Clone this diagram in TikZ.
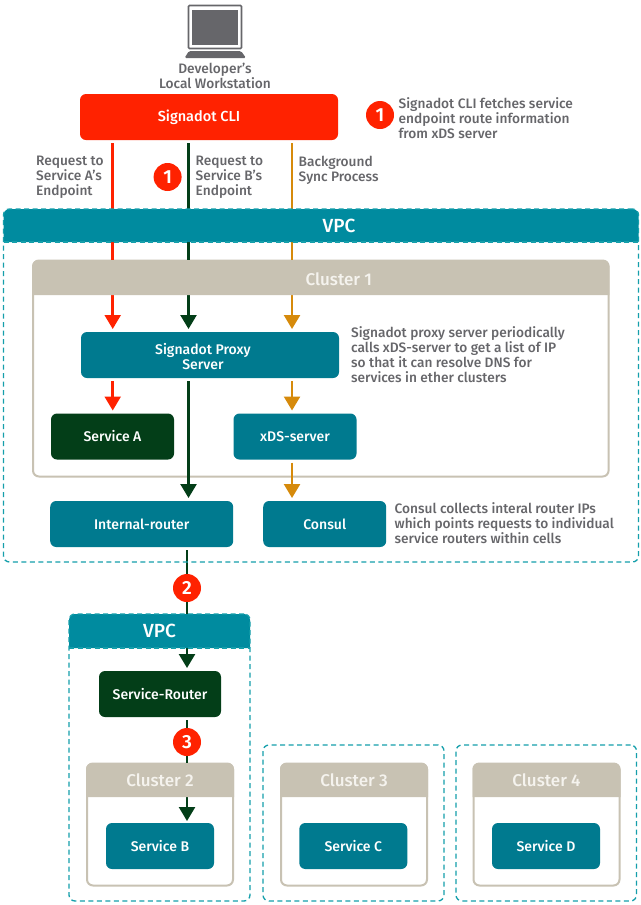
\documentclass[tikz,border=0pt]{standalone}
\usepackage{fontspec}
\setmainfont{Fira Sans}[BoldFont={Fira Sans Medium}]
\newfontfamily\badgefont{Fira Sans SemiBold}
\usetikzlibrary{arrows.meta}
\definecolor{tealbox}{HTML}{007A8F}
\definecolor{tealband}{HTML}{008B9F}
\definecolor{tealdash}{HTML}{159FAB}
\definecolor{darkgreen}{HTML}{033E18}
\definecolor{sigred}{HTML}{FF2200}
\definecolor{sigorange}{HTML}{D68A0B}
\definecolor{beige}{HTML}{C8C2B3}
\definecolor{greytext}{HTML}{66666A}
\definecolor{headertext}{HTML}{F5F3EE}
\pgfdeclarelayer{frames}
\pgfdeclarelayer{lines}
\pgfdeclarelayer{bands}
\pgfdeclarelayer{dashes}
\pgfsetlayers{frames,lines,bands,dashes,main}
\tikzset{
  box/.style={rectangle,rounded corners=6pt,minimum height=46pt,inner sep=0pt,outer sep=0pt,
    text=white,align=center,font=\fontsize{14}{15}\selectfont\bfseries},
  tealnode/.style={box,fill=tealbox},
  greennode/.style={box,fill=darkgreen},
  clinode/.style={box,fill=sigred},
  note/.style={text=greytext,align=left,inner sep=0pt,anchor=west,font=\fontsize{13.7}{15}\selectfont\bfseries},
  centrenote/.style={note,anchor=center,align=center},
  badge/.style={circle,fill=sigred,text=white,minimum size=28pt,inner sep=0pt,outer sep=0pt,
    font=\fontsize{19}{19}\selectfont\badgefont},
  vpcframe/.style={rectangle,draw=tealdash,line width=1.3pt,dash pattern=on 5pt off 3.5pt,rounded corners=6pt,
    inner sep=0pt,outer sep=0pt},
  clusterframe/.style={rectangle,draw=beige,fill=white,line width=2pt,rounded corners=6pt,inner sep=0pt,outer sep=0pt},
  headlabel/.style={text=headertext,inner sep=0pt,font=\fontsize{17}{18}\selectfont\bfseries},
  vpclabel/.style={text=white,inner sep=0pt,font=\fontsize{19}{19}\selectfont\bfseries},
  header/.style={rectangle,inner sep=0pt,outer sep=0pt},
  wire/.style={line width=2.5pt},
  arrowwire/.style={wire,-{Triangle[width=16pt,length=14pt]}},
  gapstart/.style={shorten <=3pt},
  gapend/.style={shorten >=3pt},
}
\newcommand{\topround}[2]{\fill[#2] (#1.south west) [rounded corners=6pt] -- (#1.north west) -- (#1.north east) [sharp corners] -- (#1.south east) -- cycle;}
\begin{document}
\begin{tikzpicture}[x=1pt,y=1pt]
\useasboundingbox (0,0) rectangle (640,-905);
\begin{pgfonlayer}{frames}
\fill[white] (0,0) rectangle (640,-905);
\end{pgfonlayer}
% column guides for connectors
\coordinate (colred) at (112.7,0);
\coordinate (colgreen) at (188.5,0);
\coordinate (colorange) at (292,0);
\coordinate (collow) at (187,0);
% laptop icon
\draw[greytext,line width=1.6pt,rounded corners=1pt,fill=white] (188.5,-5.5) rectangle (241.5,-48.5);
\fill[greytext] (192,-10) rectangle (238,-44.5);
\fill[greytext,rounded corners=1.5pt] (184.5,-58) -- (189,-51) -- (241,-51) -- (246,-58) -- cycle;
\node[centrenote] (workstation) at (215,-75.5) {Developer’s\\Local Workstation};
% main boxes
\node[clinode,minimum width=258pt,label={[text=white,font=\fontsize{14.5}{15}\selectfont\bfseries,xshift=-10pt,inner sep=0pt]center:Signadot CLI}] (cli) at (209,-117) {};
\node[tealnode,minimum width=258pt,label={[text=white,align=center,font=\fontsize{14}{15}\selectfont\bfseries,xshift=-7pt,yshift=-1.5pt,inner sep=0pt]center:Signadot Proxy\\Server}] (proxy) at (210,-355) {};
\node[greennode,minimum width=123pt] (serviceA) at (112.5,-436.5) {Service A};
\node[tealnode,minimum width=123pt] (xds) at (295,-436.5) {xDS-server};
\node[tealnode,minimum width=183pt] (router) at (141.7,-524) {Internal-router};
\node[tealnode,minimum width=123pt] (consul) at (324.7,-524) {Consul};
\node[greennode,minimum width=122pt] (srouter) at (160,-694) {Service-Router};
\node[tealnode,minimum width=108pt] (serviceB) at (160,-846) {Service B};
\node[tealnode,minimum width=108pt] (serviceC) at (353.3,-846) {Service C};
\node[tealnode,minimum width=108pt] (serviceD) at (546,-846) {Service D};
% badges
\node[badge] (badgeA) at (380,-115) {1};
\node[badge] (badgeB) at (167.6,-177) {1};
\node[badge] (badgeC) at (187,-588) {2};
\node[badge] (badgeD) at (187,-742) {3};
% notes
\node[note] (noteA) at (398.5,-118) {Signadot CLI fetches service\\endpoint route information\\from xDS server};
\node[note] (labelA) at (36,-177.5) {Request to\\Service A’s\\Endpoint};
\node[note] (labelB) at (195.5,-177.5) {Request to\\Service B’s\\Endpoint};
\node[note] (labelC) at (298.5,-170) {Background\\Sync Process};
\node[note] (noteB) at (351,-354.5) {Signadot proxy server periodically\\calls xDS-server to get a list of IP\\so that it can resolve DNS for\\services in ether clusters};
\node[note] (noteC) at (394.5,-523) {Consul collects interal router IPs\\which points requests to individual\\service routers within cells};
% headers
\node[header,minimum width=635pt,minimum height=33pt,label={[vpclabel,xshift=18pt]center:VPC}] (vpcA) at (321,-225.5) {};
\node[header,minimum width=181pt,minimum height=34pt,label={[vpclabel]center:VPC}] (vpcB) at (159.5,-631) {};
\node[header,minimum width=577pt,minimum height=35pt,label={[headlabel,xshift=18pt,yshift=-1.5pt]center:Cluster 1}] (clusterAh) at (320.8,-277.5) {};
\node[header,minimum width=148pt,minimum height=34pt,label={[headlabel]center:Cluster 2}] (clusterBh) at (160,-780) {};
\node[header,minimum width=148pt,minimum height=34pt,label={[headlabel]center:Cluster 3}] (clusterCh) at (354,-780) {};
\node[header,minimum width=148pt,minimum height=34pt,label={[headlabel]center:Cluster 4}] (clusterDh) at (546.5,-780) {};
\begin{pgfonlayer}{frames}
  \node[clusterframe,minimum width=575.6pt,minimum height=216pt] (clusterA) at (320.8,-368.5) {};
  \node[clusterframe,minimum width=146pt,minimum height=122pt] (clusterB) at (160,-824.5) {};
  \node[clusterframe,minimum width=146pt,minimum height=122pt] (clusterC) at (354,-824.5) {};
  \node[clusterframe,minimum width=146pt,minimum height=122pt] (clusterD) at (546.5,-824.5) {};
\end{pgfonlayer}
\begin{pgfonlayer}{bands}
  \topround{vpcA}{tealband}
  \topround{vpcB}{tealband}
  \topround{clusterAh}{beige}
  \topround{clusterBh}{beige}
  \topround{clusterCh}{beige}
  \topround{clusterDh}{beige}
\end{pgfonlayer}
\begin{pgfonlayer}{dashes}
  \node[vpcframe,minimum width=635pt,minimum height=353pt] (frameA) at (321,-385.5) {};
  \node[vpcframe,minimum width=181pt,minimum height=287pt] (frameB) at (159.5,-757.5) {};
  \node[vpcframe,minimum width=181pt,minimum height=156pt] (frameC) at (353.5,-823) {};
  \node[vpcframe,minimum width=180.5pt,minimum height=156pt] (frameD) at (546.25,-823) {};
  \draw[tealdash,line width=1.3pt,dash pattern=on 5pt off 3.5pt] (vpcA.south west) -- (vpcA.south east);
  \draw[tealdash,line width=1.3pt,dash pattern=on 5pt off 3.5pt] (vpcB.south west) -- (vpcB.south east);
\end{pgfonlayer}
% connectors
\begin{pgfonlayer}{lines}
  \draw[arrowwire,sigred,gapstart,gapend] (cli.south -| colred) -- (proxy.north -| colred);
  \draw[arrowwire,sigred,gapstart,gapend] (proxy.south -| colred) -- (serviceA.north -| colred);
  \draw[arrowwire,darkgreen,gapstart,gapend] (cli.south -| colgreen) -- (proxy.north -| colgreen);
  \draw[arrowwire,darkgreen,gapstart,gapend] (proxy.south -| colgreen) -- (router.north -| colgreen);
  \draw[arrowwire,sigorange,gapstart,gapend] (cli.south -| colorange) -- (proxy.north -| colorange);
  \draw[arrowwire,sigorange,gapstart,gapend] (proxy.south -| colorange) -- (xds.north -| colorange);
  \draw[arrowwire,sigorange,gapstart,gapend] (xds.south -| colorange) -- (consul.north -| colorange);
  \draw[wire,darkgreen,gapstart] (router.south -| collow) -- (badgeC);
  \draw[arrowwire,darkgreen,gapend] (badgeC) -- (srouter.north -| collow);
  \draw[wire,darkgreen,gapstart] (srouter.south -| collow) -- (badgeD);
  \draw[arrowwire,darkgreen,shorten >=2pt] (badgeD) -- (serviceB.north -| collow);
\end{pgfonlayer}
\end{tikzpicture}
\end{document}
